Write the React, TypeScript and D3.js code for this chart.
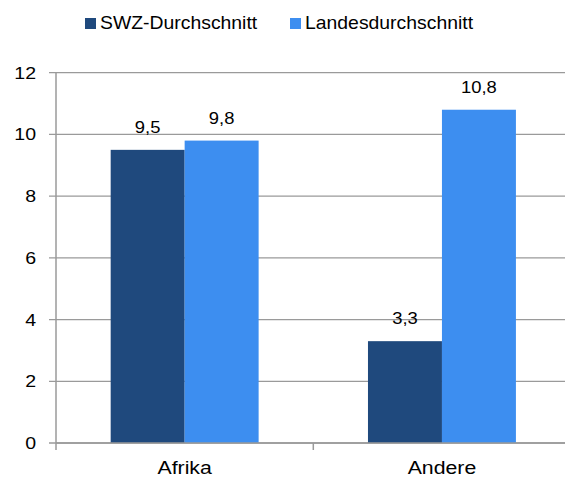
import React from "react";
import * as d3 from "d3";

const categories = ["Afrika", "Andere"];
const seriesNames = ["SWZ-Durchschnitt", "Landesdurchschnitt"];
const swzValues = [9.5, 3.3];
const landesValues = [9.8, 10.8];
const yTicks = [0, 2, 4, 6, 8, 10, 12];
const colors = ["#1F497D", "#3D8EF0"];

const W = 565;
const H = 478;
const left = 56;
const right = 570.6;
const top = 72.7;
const bottom = 443;

const fmt = (v: number) => v.toFixed(1).replace(".", ",");

export default function App() {
  const x = d3.scaleBand<string>().domain(categories).range([left, right]).padding(0);
  const groupW = x.bandwidth() * 0.575;
  const x1 = d3.scaleBand<string>().domain(seriesNames).range([0, groupW]).padding(0);
  const y = d3.scaleLinear().domain([0, 12]).range([bottom, top]);
  const series = [swzValues, landesValues];
  const sx = 1.15;
  const textStyle = { fontFamily: "'Liberation Sans', Arial, sans-serif", fill: "#000" };

  return (
    <svg width={W} height={H} style={{ position: "absolute", left: 0, top: 0 }}>
      <rect width={W} height={H} fill="#fff" />
      {/* gridlines */}
      {yTicks.map((t) => (
        <g key={t}>
          <line x1={left - 7} x2={W} y1={y(t)} y2={y(t)} stroke="#9a9a9a" strokeWidth={1.3} />
          <text
            transform={`translate(36,${y(t) + 6}) scale(${sx},1)`}
            textAnchor="end"
            fontSize={17}
            style={textStyle}
          >
            {t}
          </text>
        </g>
      ))}
      {/* bars */}
      {categories.map((c, ci) => {
        const gx = (x(c) as number) + (x.bandwidth() - groupW) / 2;
        return (
          <g key={c}>
            {seriesNames.map((s, si) => {
              const v = series[si][ci];
              const bx = gx + (x1(s) as number);
              return (
                <g key={s}>
                  <rect x={bx} y={y(v)} width={x1.bandwidth()} height={bottom - y(v)} fill={colors[si]} />
                  <text
                    transform={`translate(${bx + x1.bandwidth() / 2},${y(v) - 17}) scale(${sx},1)`}
                    textAnchor="middle"
                    fontSize={16}
                    style={textStyle}
                  >
                    {fmt(v)}
                  </text>
                </g>
              );
            })}
            <text
              transform={`translate(${(x(c) as number) + x.bandwidth() / 2},474) scale(${sx},1)`}
              textAnchor="middle"
              fontSize={18.5}
              style={textStyle}
            >
              {c}
            </text>
          </g>
        );
      })}
      {/* axes */}
      <line x1={left} x2={left} y1={top} y2={bottom + 7} stroke="#9a9a9a" strokeWidth={1.5} />
      <line x1={left} x2={W} y1={bottom} y2={bottom} stroke="#9a9a9a" strokeWidth={1.5} />
      {categories.map((c, i) =>
        i > 0 ? (
          <line key={c} x1={x(c) as number} x2={x(c) as number} y1={bottom} y2={bottom + 7} stroke="#9a9a9a" strokeWidth={1.5} />
        ) : null
      )}
      {/* legend */}
      {seriesNames.map((s, i) => {
        const lx = [85, 290][i];
        return (
          <g key={s}>
            <rect x={lx} y={18} width={11} height={11} fill={colors[i]} />
            <text
              transform={`translate(${lx + 15},29) scale(1.02,1)`}
              fontSize={19}
              style={textStyle}
            >
              {s}
            </text>
          </g>
        );
      })}
    </svg>
  );
}
